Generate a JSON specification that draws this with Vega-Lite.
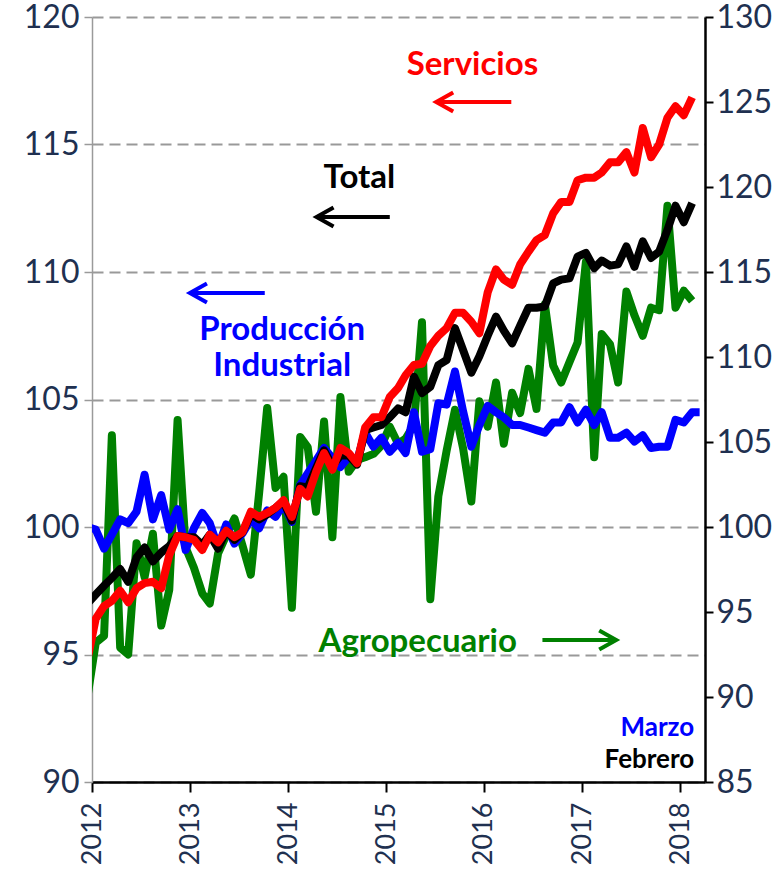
{
  "$schema": "https://vega.github.io/schema/vega-lite/v6.json",
  "width": 613,
  "height": 765,
  "autosize": {"type": "none"},
  "padding": {"left": 92, "top": 17, "right": 78, "bottom": 87},
  "background": "white",
  "config": {
    "view": {"stroke": null},
    "font": "Lato",
    "axisX": {"grid": false},
    "axisBottom": {"grid": false, "labelFontSize": 27, "labelFont": "Lato", "labelColor": "#203050", "labelPadding": 10, "tickSize": 10, "tickColor": "#000000", "tickWidth": 2, "domainColor": "#000000", "domainWidth": 2.5},
    "axisLeft": {"domainColor": "#9a9a9a", "domainWidth": 1.5, "tickColor": "#9a9a9a", "tickSize": 8, "tickWidth": 1.5, "labelFontSize": 32, "labelFont": "Lato", "labelColor": "#203050", "labelPadding": 5},
    "axisRight": {"grid": false, "domainColor": "#000000", "domainWidth": 2.5, "tickColor": "#000000", "tickSize": 8, "tickWidth": 2, "labelFontSize": 32, "labelFont": "Lato", "labelColor": "#203050", "labelPadding": 3}
  },
  "datasets": {
    "m": [
      {"d": "2011-12-15", "serv": 94.8, "tot": 97.0, "ind": 100.0, "agro": 90.0},
      {"d": "2012-01-15", "serv": 96.4, "tot": 97.35, "ind": 99.9, "agro": 93.2},
      {"d": "2012-02-15", "serv": 96.9, "tot": 97.7, "ind": 99.15, "agro": 93.6},
      {"d": "2012-03-15", "serv": 97.1, "tot": 98.0, "ind": 99.7, "agro": 105.4},
      {"d": "2012-04-15", "serv": 97.5, "tot": 98.35, "ind": 100.3, "agro": 92.9},
      {"d": "2012-05-15", "serv": 97.05, "tot": 97.85, "ind": 100.15, "agro": 92.5},
      {"d": "2012-06-15", "serv": 97.6, "tot": 98.8, "ind": 100.6, "agro": 99.05},
      {"d": "2012-07-15", "serv": 97.8, "tot": 99.2, "ind": 102.05, "agro": 97.05},
      {"d": "2012-08-15", "serv": 97.85, "tot": 98.65, "ind": 100.3, "agro": 99.6},
      {"d": "2012-09-15", "serv": 97.6, "tot": 99.0, "ind": 101.25, "agro": 94.2},
      {"d": "2012-10-15", "serv": 98.9, "tot": 99.25, "ind": 99.9, "agro": 96.3},
      {"d": "2012-11-15", "serv": 99.65, "tot": 99.65, "ind": 100.7, "agro": 106.3},
      {"d": "2012-12-15", "serv": 99.6, "tot": 99.6, "ind": 99.1, "agro": 98.8},
      {"d": "2013-01-15", "serv": 99.5, "tot": 99.6, "ind": 99.95, "agro": 97.6},
      {"d": "2013-02-15", "serv": 99.1, "tot": 99.3, "ind": 100.55, "agro": 96.1},
      {"d": "2013-03-15", "serv": 99.7, "tot": 99.7, "ind": 100.15, "agro": 95.5},
      {"d": "2013-04-15", "serv": 99.4, "tot": 99.15, "ind": 99.2, "agro": 98.45},
      {"d": "2013-05-15", "serv": 99.85, "tot": 99.85, "ind": 100.1, "agro": 99.5},
      {"d": "2013-06-15", "serv": 99.6, "tot": 99.5, "ind": 99.35, "agro": 100.5},
      {"d": "2013-07-15", "serv": 99.8, "tot": 99.8, "ind": 99.75, "agro": 98.9},
      {"d": "2013-08-15", "serv": 100.6, "tot": 100.5, "ind": 100.3, "agro": 97.2},
      {"d": "2013-09-15", "serv": 100.4, "tot": 100.3, "ind": 99.95, "agro": 102.0},
      {"d": "2013-10-15", "serv": 100.55, "tot": 100.5, "ind": 100.65, "agro": 107.0},
      {"d": "2013-11-15", "serv": 100.75, "tot": 100.75, "ind": 100.4, "agro": 102.3},
      {"d": "2013-12-15", "serv": 101.05, "tot": 101.0, "ind": 100.9, "agro": 102.95},
      {"d": "2014-01-15", "serv": 100.4, "tot": 100.25, "ind": 100.2, "agro": 95.25},
      {"d": "2014-02-15", "serv": 101.5, "tot": 101.6, "ind": 101.65, "agro": 105.3},
      {"d": "2014-03-15", "serv": 101.2, "tot": 101.55, "ind": 102.1, "agro": 104.7},
      {"d": "2014-04-15", "serv": 102.15, "tot": 102.3, "ind": 102.6, "agro": 100.9},
      {"d": "2014-05-15", "serv": 102.9, "tot": 103.0, "ind": 103.1, "agro": 106.2},
      {"d": "2014-06-15", "serv": 102.25, "tot": 102.4, "ind": 102.7, "agro": 99.4},
      {"d": "2014-07-15", "serv": 103.1, "tot": 102.8, "ind": 102.35, "agro": 107.65},
      {"d": "2014-08-15", "serv": 102.9, "tot": 102.8, "ind": 102.75, "agro": 103.25},
      {"d": "2014-09-15", "serv": 102.5, "tot": 102.45, "ind": 102.6, "agro": 103.95},
      {"d": "2014-10-15", "serv": 103.9, "tot": 103.8, "ind": 103.7, "agro": 104.1},
      {"d": "2014-11-15", "serv": 104.3, "tot": 103.9, "ind": 103.15, "agro": 104.3},
      {"d": "2014-12-15", "serv": 104.3, "tot": 104.0, "ind": 103.5, "agro": 104.8},
      {"d": "2015-01-15", "serv": 105.1, "tot": 104.3, "ind": 102.95, "agro": 105.9},
      {"d": "2015-02-15", "serv": 105.45, "tot": 104.65, "ind": 103.3, "agro": 104.9},
      {"d": "2015-03-15", "serv": 105.95, "tot": 104.5, "ind": 102.9, "agro": 105.2},
      {"d": "2015-04-15", "serv": 106.35, "tot": 105.9, "ind": 104.5, "agro": 106.0},
      {"d": "2015-05-15", "serv": 106.4, "tot": 105.25, "ind": 102.95, "agro": 112.05},
      {"d": "2015-06-15", "serv": 107.1, "tot": 105.5, "ind": 103.05, "agro": 95.75},
      {"d": "2015-07-15", "serv": 107.5, "tot": 106.35, "ind": 104.85, "agro": 101.8},
      {"d": "2015-08-15", "serv": 107.8, "tot": 106.55, "ind": 104.8, "agro": 104.5},
      {"d": "2015-09-15", "serv": 108.4, "tot": 107.8, "ind": 106.1, "agro": 106.9},
      {"d": "2015-10-15", "serv": 108.4, "tot": 106.95, "ind": 104.55, "agro": 104.65},
      {"d": "2015-11-15", "serv": 108.05, "tot": 106.05, "ind": 103.15, "agro": 101.5},
      {"d": "2015-12-15", "serv": 107.6, "tot": 106.7, "ind": 104.0, "agro": 107.4},
      {"d": "2016-01-15", "serv": 109.2, "tot": 107.5, "ind": 104.75, "agro": 105.9},
      {"d": "2016-02-15", "serv": 110.1, "tot": 108.25, "ind": 104.5, "agro": 108.5},
      {"d": "2016-03-15", "serv": 109.7, "tot": 107.7, "ind": 104.3, "agro": 104.9},
      {"d": "2016-04-15", "serv": 109.5, "tot": 107.2, "ind": 104.0, "agro": 107.9},
      {"d": "2016-05-15", "serv": 110.3, "tot": 107.9, "ind": 104.0, "agro": 106.7},
      {"d": "2016-06-15", "serv": 110.8, "tot": 108.6, "ind": 103.9, "agro": 109.3},
      {"d": "2016-07-15", "serv": 111.25, "tot": 108.6, "ind": 103.8, "agro": 106.95},
      {"d": "2016-08-15", "serv": 111.45, "tot": 108.65, "ind": 103.7, "agro": 113.1},
      {"d": "2016-09-15", "serv": 112.3, "tot": 109.55, "ind": 104.1, "agro": 109.5},
      {"d": "2016-10-15", "serv": 112.75, "tot": 109.7, "ind": 104.1, "agro": 108.5},
      {"d": "2016-11-15", "serv": 112.75, "tot": 109.75, "ind": 104.7, "agro": 109.7},
      {"d": "2016-12-15", "serv": 113.6, "tot": 110.6, "ind": 104.1, "agro": 110.85},
      {"d": "2017-01-15", "serv": 113.7, "tot": 110.75, "ind": 104.6, "agro": 115.6},
      {"d": "2017-02-15", "serv": 113.7, "tot": 110.15, "ind": 104.0, "agro": 104.1},
      {"d": "2017-03-15", "serv": 113.9, "tot": 110.45, "ind": 104.5, "agro": 111.35},
      {"d": "2017-04-15", "serv": 114.3, "tot": 110.25, "ind": 103.5, "agro": 110.75},
      {"d": "2017-05-15", "serv": 114.3, "tot": 110.3, "ind": 103.5, "agro": 108.5},
      {"d": "2017-06-15", "serv": 114.7, "tot": 111.0, "ind": 103.7, "agro": 113.85},
      {"d": "2017-07-15", "serv": 113.9, "tot": 110.2, "ind": 103.35, "agro": 112.45},
      {"d": "2017-08-15", "serv": 115.65, "tot": 111.2, "ind": 103.6, "agro": 111.25},
      {"d": "2017-09-15", "serv": 114.5, "tot": 110.55, "ind": 103.1, "agro": 112.9},
      {"d": "2017-10-15", "serv": 115.0, "tot": 110.8, "ind": 103.15, "agro": 112.75},
      {"d": "2017-11-15", "serv": 116.05, "tot": 111.65, "ind": 103.15, "agro": 118.9},
      {"d": "2017-12-15", "serv": 116.5, "tot": 112.6, "ind": 104.2, "agro": 112.9},
      {"d": "2018-01-15", "serv": 116.15, "tot": 111.95, "ind": 104.1, "agro": 113.9},
      {"d": "2018-02-15", "serv": 116.85, "tot": 112.7, "ind": 104.5, "agro": 113.3},
      {"d": "2018-03-15", "ind": 104.5}
    ],
    "notes": [
      {"s": "Servicios", "d": "2015-11-19", "v": 117.73, "t": "Servicios"},
      {"s": "Total", "d": "2014-09-24", "v": 113.29, "t": "Total"},
      {"s": "Producción Industrial", "d": "2013-12-10", "v": 107.33, "t": "Producción\nIndustrial"},
      {"s": "Agropecuario", "d": "2015-04-29", "v": 95.1, "t": "Agropecuario"}
    ],
    "corner": [
      {"s": "Marzo", "d": "2018-02-23", "v": 91.8, "t": "Marzo"},
      {"s": "Febrero", "d": "2018-02-23", "v": 90.55, "t": "Febrero"}
    ],
    "arrows": [
      {"s": "Servicios", "d": "2015-07-07", "d2": "2016-04-12", "v": 116.67},
      {"s": "Total", "d": "2014-04-17", "d2": "2015-01-15", "v": 112.16},
      {"s": "Producción Industrial", "d": "2012-12-31", "d2": "2013-10-06", "v": 109.18},
      {"s": "Agropecuario", "d": "2017-05-08", "d2": "2016-08-06", "v": 95.57}
    ]
  },
  "layer": [
    {
      "data": {"name": "m"},
      "mark": {"type": "line", "color": "#008000", "strokeWidth": 8, "strokeJoin": "round", "clip": true},
      "encoding": {
        "x": {"field": "d", "type": "temporal", "scale": {"type": "utc", "domain": [{"year": 2012, "month": 1, "date": 1, "utc": true}, {"year": 2018, "month": 4, "date": 4, "utc": true}]}, "axis": {"title": null, "format": "%Y", "labelAngle": -90, "labelFlush": false, "labelOverlap": false, "labelBound": false, "values": [{"year": 2012, "month": 1, "date": 1, "utc": true}, {"year": 2013, "month": 1, "date": 1, "utc": true}, {"year": 2014, "month": 1, "date": 1, "utc": true}, {"year": 2015, "month": 1, "date": 1, "utc": true}, {"year": 2016, "month": 1, "date": 1, "utc": true}, {"year": 2017, "month": 1, "date": 1, "utc": true}, {"year": 2018, "month": 1, "date": 1, "utc": true}]}},
        "y": {"field": "agro", "type": "quantitative", "scale": {"domain": [85, 130], "nice": false, "zero": false}, "axis": {"orient": "right", "title": null, "grid": false, "values": [85, 90, 95, 100, 105, 110, 115, 120, 125, 130]}}
      }
    },
    {
      "encoding": {
        "x": {"field": "d", "type": "temporal", "scale": {"type": "utc", "domain": [{"year": 2012, "month": 1, "date": 1, "utc": true}, {"year": 2018, "month": 4, "date": 4, "utc": true}]}, "axis": {"title": null, "format": "%Y", "labelAngle": -90, "labelFlush": false, "labelOverlap": false, "labelBound": false, "values": [{"year": 2012, "month": 1, "date": 1, "utc": true}, {"year": 2013, "month": 1, "date": 1, "utc": true}, {"year": 2014, "month": 1, "date": 1, "utc": true}, {"year": 2015, "month": 1, "date": 1, "utc": true}, {"year": 2016, "month": 1, "date": 1, "utc": true}, {"year": 2017, "month": 1, "date": 1, "utc": true}, {"year": 2018, "month": 1, "date": 1, "utc": true}]}}
      },
      "layer": [
        {
          "data": {"name": "m"},
          "mark": {"type": "line", "color": "#0000FF", "strokeWidth": 8, "strokeJoin": "round", "clip": true},
          "encoding": {"y": {"field": "ind", "type": "quantitative", "scale": {"domain": [90, 120], "nice": false, "zero": false}, "axis": {"orient": "left", "title": null, "grid": true, "gridDash": [11, 6], "gridColor": "#999999", "gridWidth": 2, "values": [90, 95, 100, 105, 110, 115, 120]}}}
        },
        {
          "data": {"name": "m"},
          "mark": {"type": "line", "color": "#000000", "strokeWidth": 8, "strokeJoin": "round", "clip": true},
          "encoding": {"y": {"field": "tot", "type": "quantitative", "axis": {"orient": "left", "title": null, "grid": true, "gridDash": [11, 6], "gridColor": "#999999", "gridWidth": 2, "values": [90, 95, 100, 105, 110, 115, 120]}}}
        },
        {
          "data": {"name": "m"},
          "mark": {"type": "line", "color": "#FF0000", "strokeWidth": 8, "strokeJoin": "round", "clip": true},
          "encoding": {"y": {"field": "serv", "type": "quantitative", "axis": {"orient": "left", "title": null, "grid": true, "gridDash": [11, 6], "gridColor": "#999999", "gridWidth": 2, "values": [90, 95, 100, 105, 110, 115, 120]}}}
        },
        {
          "data": {"name": "notes"},
          "mark": {"type": "text", "font": "Lato", "fontWeight": "bold", "fontSize": 33, "align": "center", "baseline": "alphabetic", "lineBreak": "\n", "lineHeight": 36},
          "encoding": {
            "y": {"field": "v", "type": "quantitative", "axis": {"orient": "left", "title": null, "grid": true, "gridDash": [11, 6], "gridColor": "#999999", "gridWidth": 2, "values": [90, 95, 100, 105, 110, 115, 120]}},
            "text": {"field": "t"},
            "color": {"field": "s", "type": "nominal", "scale": {"domain": ["Servicios", "Total", "Producción Industrial", "Agropecuario", "Marzo", "Febrero"], "range": ["#FF0000", "#000000", "#0000FF", "#008000", "#0000FF", "#000000"]}, "legend": null}
          }
        },
        {
          "data": {"name": "corner"},
          "mark": {"type": "text", "font": "Lato", "fontWeight": "bold", "fontSize": 26, "align": "right", "baseline": "alphabetic"},
          "encoding": {
            "y": {"field": "v", "type": "quantitative", "axis": {"orient": "left", "title": null, "grid": true, "gridDash": [11, 6], "gridColor": "#999999", "gridWidth": 2, "values": [90, 95, 100, 105, 110, 115, 120]}},
            "text": {"field": "t"},
            "color": {"field": "s", "type": "nominal", "legend": null}
          }
        },
        {
          "data": {"name": "arrows"},
          "mark": {"type": "rule", "strokeWidth": 4},
          "encoding": {
            "x2": {"field": "d2"},
            "y": {"field": "v", "type": "quantitative", "axis": {"orient": "left", "title": null, "grid": true, "gridDash": [11, 6], "gridColor": "#999999", "gridWidth": 2, "values": [90, 95, 100, 105, 110, 115, 120]}},
            "color": {"field": "s", "type": "nominal", "legend": null}
          }
        },
        {
          "data": {"name": "arrows"},
          "transform": [{"filter": "datum.s !== 'Agropecuario'"}],
          "mark": {"type": "point", "shape": "M 1 -0.56 L 0 0 L 1 0.56", "size": 1156, "filled": false, "strokeWidth": 4, "opacity": 1, "strokeJoin": "miter"},
          "encoding": {
            "y": {"field": "v", "type": "quantitative", "axis": {"orient": "left", "title": null, "grid": true, "gridDash": [11, 6], "gridColor": "#999999", "gridWidth": 2, "values": [90, 95, 100, 105, 110, 115, 120]}},
            "color": {"field": "s", "type": "nominal", "legend": null}
          }
        },
        {
          "data": {"name": "arrows"},
          "transform": [{"filter": "datum.s === 'Agropecuario'"}],
          "mark": {"type": "point", "shape": "M -1 -0.56 L 0 0 L -1 0.56", "size": 1156, "filled": false, "strokeWidth": 4, "opacity": 1, "strokeJoin": "miter"},
          "encoding": {
            "y": {"field": "v", "type": "quantitative", "axis": {"orient": "left", "title": null, "grid": true, "gridDash": [11, 6], "gridColor": "#999999", "gridWidth": 2, "values": [90, 95, 100, 105, 110, 115, 120]}},
            "color": {"field": "s", "type": "nominal", "legend": null}
          }
        }
      ]
    }
  ],
  "resolve": {"scale": {"y": "independent"}}
}
